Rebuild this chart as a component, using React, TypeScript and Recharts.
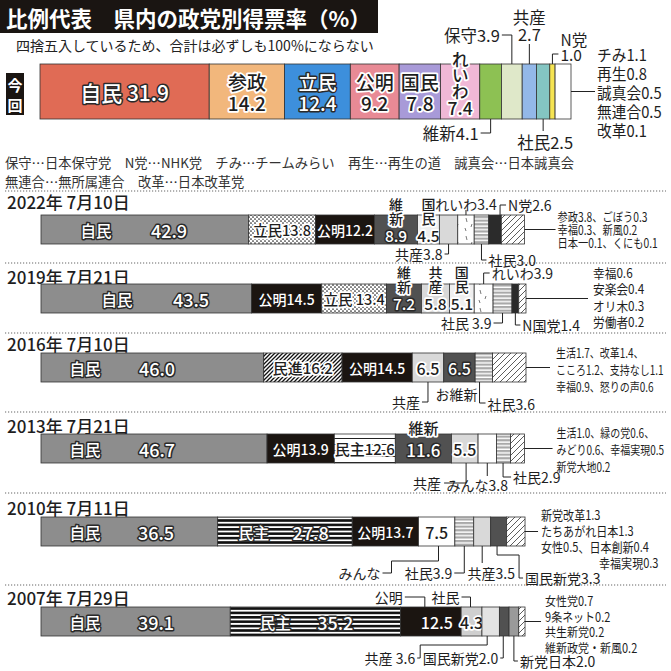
import React from 'react'
import { BarChart, Bar, XAxis, YAxis } from 'recharts'

const FONT = "'Noto Sans CJK JP', 'Noto Sans', sans-serif"

// ---- data: today's result ----
const nowParties = ['自民', '参政', '立民', '公明', '国民', 'れいわ', '維新', '保守', '共産', '社民', 'N党', 'その他']
const nowValues = [31.9, 14.2, 12.4, 9.2, 7.8, 7.4, 4.1, 3.9, 2.7, 2.5, 1.0, 3.0]
const nowOthers = ['チみ1.1', '再生0.8', '誠真会0.5', '無連合0.5', '改革0.1']

// ---- data: past elections ----
const p2022 = ['自民', '立民', '公明', '維新', '国民', '共産', 'れいわ', '社民', 'N党', 'その他']
const v2022 = [42.9, 13.8, 12.2, 8.9, 4.5, 3.8, 3.4, 3.0, 2.6, 4.8]
const o2022 = ['参政3.8、ごぼう0.3', '幸福0.3、新風0.2', '日本一0.1、くにも0.1']

const p2019 = ['自民', '公明', '立民', '維新', '共産', '国民', 'れいわ', '社民', 'N国党', 'その他']
const v2019 = [43.5, 14.5, 13.4, 7.2, 5.8, 5.1, 3.9, 3.9, 1.4, 1.5]
const o2019 = ['幸福0.6', '安楽会0.4', 'オリ木0.3', '労働者0.2']

const p2016 = ['自民', '民進', '公明', '共産', 'お維新', '社民', 'その他']
const v2016 = [46.0, 16.2, 14.5, 6.5, 6.5, 3.6, 6.9]
const o2016 = ['生活1.7、改革1.4、', 'こころ1.2、支持なし1.1', '幸福0.9、怒りの声0.6']

const p2013 = ['自民', '公明', '民主', '維新', '共産', 'みんな', '社民', 'その他']
const v2013 = [46.7, 13.9, 12.6, 11.6, 5.5, 3.8, 2.9, 2.9]
const o2013 = ['生活1.0、緑の党0.6、', 'みどり0.6、幸福実現0.5', '新党大地0.2']

const p2010 = ['自民', '民主', '公明', 'みんな', '社民', '共産', '国民新党', 'その他']
const v2010 = [36.5, 27.8, 13.7, 7.5, 3.9, 3.5, 3.3, 3.8]
const o2010 = ['新党改革1.3', 'たちあがれ日本1.3', '女性0.5、日本創新0.4', '幸福実現0.3']

const p2007 = ['自民', '民主', '公明', '社民', '共産', '国民新党', '新党日本', 'その他']
const v2007 = [39.1, 35.2, 12.5, 4.3, 3.6, 2.0, 2.0, 1.3]
const o2007 = ['女性党0.7', '9条ネット0.2', '共生新党0.2', '維新政党・新風0.2']

const dates = ['2022年 7月10日', '2019年 7月21日', '2016年 7月10日', '2013年 7月21日', '2010年 7月11日', '2007年 7月29日']
const title = '比例代表　県内の政党別得票率（%）'
const subtitle = '四捨五入しているため、合計は必ずしも100%にならない'
const legendLines = [
  '保守…日本保守党　N党…NHK党　チみ…チームみらい　再生…再生の道　誠真会…日本誠真会',
  '無連合…無所属連合　改革…日本改革党',
]

// ---- look & layout ----
type Txt = { t: string; dx?: number; dy?: number; from?: 'l' | 'c'; c?: 'w' | 'k' | 'kh' | 'wp'; fs?: number }
type Note = {
  edge: 'top' | 'bottom' | 'end'
  f?: number
  path: number[][]
  tx: number
  ty: number
  a: 'start' | 'middle' | 'end'
  t?: string[]
  lh?: number
  fs?: number
  sx?: number
  ldx?: number[]
}
type Look = { fill: string; txt?: Txt[]; note?: Note }

const GRAY = '#8d8d8d'
const BLACK = '#1b1511'
const DARK = '#515151'
const LIGHT = '#d9d9d9'
const PALE = '#efefef'
const NEARBLACK = '#2b2b2b'
const MID = '#9a9a9a'

const jimin = (dn: number, dv: number): Txt[] => [
  { t: '{n}', from: 'l', dx: dn, c: 'w', fs: 15.5 },
  { t: '{v}', from: 'l', dx: dv, c: 'w', fs: 18 },
]
const vert = (d: number[], c: 'w' | 'kh'): Txt[] => [
  { t: '{n0}', dy: d[0], c: 'kh', fs: 14 },
  { t: '{n1}', dy: d[1], c: 'kh', fs: 14 },
  { t: '{v}', dy: d[2], c, fs: 15.5 },
]
const two = (c: 'w' | 'kh'): Txt[] => [
  { t: '{n}', dy: -10, c, fs: 19 },
  { t: '{v}', dy: 11, c, fs: 19 },
]

const nowLook: Look[] = [
  { fill: '#e06b55', txt: [{ t: '{n} {v}', c: 'w', fs: 21 }] },
  { fill: '#f2b77c', txt: two('kh') },
  { fill: '#3d8fdc', txt: two('w') },
  { fill: '#e88a95', txt: two('kh') },
  { fill: '#a89ad8', txt: two('kh') },
  {
    fill: '#f0b8d6',
    txt: [
      { t: '{n0}', dy: -33, c: 'kh', fs: 16.5 },
      { t: '{n1}', dy: -17, c: 'kh', fs: 16.5 },
      { t: '{n2}', dy: -1, c: 'kh', fs: 16.5 },
      { t: '{v}', dy: 16, c: 'kh', fs: 17.5 },
    ],
  },
  { fill: '#8dc153', note: { edge: 'bottom', path: [[0, 0], [0, 14], [-10, 14]], tx: -12, ty: 14, a: 'end', t: ['{n}{v}'], fs: 16.5 } },
  { fill: '#dfe8c9', note: { edge: 'top', path: [[0, 0], [0, -29], [-10, -29]], tx: -12, ty: -29, a: 'end', t: ['{n}{v}'], fs: 16.5 } },
  { fill: '#93b8e8', note: { edge: 'top', path: [[0, 0], [0, -20]], tx: 0, ty: -47, a: 'middle', t: ['{n}', '{v}'], lh: 17, fs: 16.5 } },
  { fill: '#84c5c2', note: { edge: 'bottom', path: [[0, 0], [0, 12]], tx: 2, ty: 23, a: 'middle', t: ['{n}{v}'], fs: 16.5 } },
  { fill: '#f6e452', note: { edge: 'top', path: [[0, 0], [0, -10], [6, -10]], tx: 8, ty: -25, a: 'start', t: ['{n}', '{v}'], lh: 15, fs: 15.5 } },
  { fill: '#ffffff', note: { edge: 'end', path: [[0, 0], [24, 0]], tx: 26, ty: -38, a: 'start', lh: 19, fs: 15.5, sx: 0.95 } },
]

const look2022: Look[] = [
  { fill: GRAY, txt: jimin(55, 128) },
  { fill: 'url(#dots)', txt: [{ t: '{n}{v}', c: 'kh', fs: 14.5 }] },
  { fill: BLACK, txt: [{ t: '{n}{v}', c: 'wp', fs: 14 }] },
  { fill: DARK, txt: vert([-26, -12, 5], 'w') },
  { fill: PALE, txt: vert([-26, -12, 5], 'kh') },
  { fill: LIGHT, note: { edge: 'bottom', path: [[0, 0], [0, 10], [-4, 10]], tx: -6, ty: 10, a: 'end', t: ['{n}{v}'] } },
  { fill: 'url(#reiwa)', note: { edge: 'top', path: [[0, 0], [0, -5]], tx: 0, ty: -11, a: 'middle', t: ['{n}{v}'] } },
  { fill: 'url(#hstripe)', note: { edge: 'bottom', path: [[0, 0], [0, 16], [5, 16]], tx: 7, ty: 16, a: 'start', t: ['{n}{v}'] } },
  { fill: NEARBLACK, note: { edge: 'top', f: 0.9, path: [[0, 0], [0, -10], [6, -10]], tx: 8, ty: -10, a: 'start', t: ['{n}{v}'] } },
  { fill: 'url(#hatch)', note: { edge: 'end', path: [[0, 0], [31, 0]], tx: 33, ty: -13, a: 'start', lh: 13, fs: 12.5, sx: 0.82 } },
]

const look2019: Look[] = [
  { fill: GRAY, txt: jimin(76, 150) },
  { fill: BLACK, txt: [{ t: '{n}{v}', c: 'wp', fs: 14 }] },
  { fill: 'url(#dots)', txt: [{ t: '{n} {v}', c: 'kh', fs: 14.5 }] },
  { fill: DARK, txt: vert([-27, -13, 4], 'w') },
  { fill: LIGHT, txt: vert([-27, -13, 4], 'kh') },
  { fill: PALE, txt: vert([-27, -13, 4], 'kh') },
  { fill: 'url(#reiwa)', note: { edge: 'top', path: [[0, 0], [0, -11], [6, -11]], tx: 8, ty: -11, a: 'start', t: ['{n}{v}'] } },
  { fill: 'url(#hstripe)', note: { edge: 'bottom', path: [[0, 0], [0, 10], [-9, 10]], tx: -11, ty: 10, a: 'end', t: ['{n} {v}'] } },
  { fill: NEARBLACK, note: { edge: 'bottom', path: [[0, 0], [0, 12], [5, 12]], tx: 7, ty: 12, a: 'start', t: ['{n}{v}'] } },
  { fill: 'url(#hatch)', note: { edge: 'end', path: [[0, 0], [62, 0]], tx: 67, ty: -26, a: 'start', lh: 16.5, fs: 13, sx: 0.9 } },
]

const look2016: Look[] = [
  { fill: GRAY, txt: jimin(44, 116) },
  { fill: 'url(#dhatch)', txt: [{ t: '{n}{v}', c: 'kh', fs: 15 }] },
  { fill: BLACK, txt: [{ t: '{n}{v}', c: 'wp', fs: 14 }] },
  { fill: LIGHT, txt: [{ t: '{v}', c: 'kh', fs: 16 }], note: { edge: 'bottom', path: [[0, 0], [0, 20], [-6, 20]], tx: -8, ty: 20, a: 'end', t: ['{n}'] } },
  { fill: DARK, txt: [{ t: '{v}', c: 'w', fs: 16 }], note: { edge: 'bottom', path: [], tx: -3, ty: 12, a: 'middle', t: ['{n}'] } },
  { fill: 'url(#hstripe)', note: { edge: 'bottom', f: 0.25, path: [[0, 0], [0, 21], [6, 21]], tx: 8, ty: 22, a: 'start', t: ['{n}{v}'] } },
  { fill: 'url(#hatch)', note: { edge: 'end', path: [[0, 0], [24, 0]], tx: 30, ty: -15, a: 'start', lh: 17, fs: 12.5, sx: 0.8 } },
]

const look2013: Look[] = [
  { fill: GRAY, txt: jimin(44, 116) },
  { fill: BLACK, txt: [{ t: '{n}{v}', c: 'wp', fs: 14 }] },
  { fill: 'url(#lstripe)', txt: [{ t: '{n}{v}', c: 'kh', fs: 15 }] },
  { fill: DARK, txt: [{ t: '{n}', dy: -21, c: 'kh', fs: 15 }, { t: '{v}', dy: 1, c: 'w', fs: 17 }] },
  { fill: LIGHT, txt: [{ t: '{v}', c: 'kh', fs: 16 }], note: { edge: 'bottom', f: 0.55, path: [[0, 0], [0, 20], [-22, 20]], tx: -25, ty: 20, a: 'end', t: ['{n}'] } },
  { fill: '#ffffff', note: { edge: 'bottom', path: [[0, 0], [0, 13]], tx: -10, ty: 22, a: 'middle', t: ['{n}{v}'] } },
  { fill: 'url(#hstripe)', note: { edge: 'bottom', f: 0.47, path: [[0, 0], [0, 14], [8, 14]], tx: 10, ty: 14, a: 'start', t: ['{n}{v}'] } },
  { fill: 'url(#hatch)', note: { edge: 'end', path: [[0, 0], [28, 0]], tx: 32, ty: -16, a: 'start', lh: 17, fs: 12.5, sx: 0.8 } },
]

const look2010: Look[] = [
  { fill: GRAY, txt: jimin(44, 115) },
  { fill: 'url(#bstripe)', txt: [{ t: '{n}', from: 'l', dx: 36, c: 'w', fs: 15.5 }, { t: '{v}', from: 'l', dx: 93, c: 'w', fs: 18 }] },
  { fill: BLACK, txt: [{ t: '{n}{v}', c: 'wp', fs: 14 }] },
  { fill: '#ffffff', txt: [{ t: '{v}', c: 'k', fs: 16 }], note: { edge: 'bottom', f: 0.55, path: [[0, 0], [0, 15], [-47, 15], [-47, 27], [-56, 27]], tx: -58, ty: 27, a: 'end', t: ['{n}'] } },
  { fill: 'url(#hstripe)', note: { edge: 'bottom', path: [[0, 0], [0, 27], [-10, 27]], tx: -12, ty: 27, a: 'end', t: ['{n}{v}'] } },
  { fill: LIGHT, note: { edge: 'bottom', path: [[0, 0], [0, 17]], tx: 9, ty: 27, a: 'middle', t: ['{n}{v}'] } },
  { fill: DARK, note: { edge: 'bottom', f: 0.4, path: [[0, 0], [0, 9], [22, 9], [22, 32], [26, 32]], tx: 28, ty: 32, a: 'start', t: ['{n}{v}'] } },
  { fill: 'url(#hatch)', note: { edge: 'end', path: [[0, 0], [13, 0]], tx: 16, ty: -17, a: 'start', lh: 16, fs: 13, sx: 0.85, ldx: [0, 0, 0, 58] } },
]

const look2007: Look[] = [
  { fill: GRAY, txt: jimin(44, 115) },
  { fill: 'url(#bstripe)', txt: [{ t: '{n}', from: 'l', dx: 45, c: 'w', fs: 15.5 }, { t: '{v}', from: 'l', dx: 105, c: 'w', fs: 18 }] },
  { fill: BLACK, txt: [{ t: '{v}', dx: 6, c: 'wp', fs: 16 }], note: { edge: 'top', f: 0.4, path: [[0, 0], [0, -10], [-20, -10]], tx: -22, ty: -10, a: 'end', t: ['{n}'] } },
  { fill: '#cfcfcf', txt: [{ t: '{v}', c: 'kh', fs: 16 }], note: { edge: 'top', f: 0.45, path: [[0, 0], [0, -10], [-9, -10]], tx: -11, ty: -10, a: 'end', t: ['{n}'] } },
  { fill: '#e3e3e3', note: { edge: 'bottom', f: 0.3, path: [[0, 0], [0, 9], [-67, 9], [-67, 22], [-70, 22]], tx: -72, ty: 22, a: 'end', t: ['{n} {v}'] } },
  { fill: DARK, note: { edge: 'bottom', f: 0.4, path: [[0, 0], [0, 22], [-3, 22]], tx: -5, ty: 22, a: 'end', t: ['{n}{v}'] } },
  { fill: MID, note: { edge: 'bottom', path: [[0, 0], [0, 25], [4, 25]], tx: 6, ty: 25, a: 'start', t: ['{n}{v}'] } },
  { fill: 'url(#hatch)', note: { edge: 'end', path: [[0, 0], [16, 0]], tx: 20, ty: -21, a: 'start', lh: 15.5, fs: 12.5, sx: 0.88 } },
]

const rowTops = [215, 284, 353, 434, 517, 607]
const sepYs = [191, 263, 333, 412, 493, 585]
const dateYs = [201, 276, 343, 425, 507, 597]

function fmt(t: string, name: string, value: number) {
  return t
    .replace(/\{n(\d)\}/g, (_m, i) => name[Number(i)] ?? '')
    .replace('{n}', name)
    .replace('{v}', value.toFixed(1))
}

function textStyle(c: string | undefined) {
  if (c === 'w') return { fill: '#fff', stroke: '#2a2a2a', strokeWidth: 3 }
  if (c === 'wp') return { fill: '#fff', stroke: 'none', strokeWidth: 0 }
  if (c === 'kh') return { fill: '#1e1e1e', stroke: '#fff', strokeWidth: 3.5 }
  return { fill: '#1e1e1e', stroke: 'none', strokeWidth: 0 }
}

function makeShape(look: Look, name: string, value: number, others: string[]) {
  return (props: any) => {
    const { x, y, width, height } = props
    const cy = y + height / 2
    const note = look.note
    let noteEl = null
    if (note) {
      const ax = note.edge === 'end' ? x + width : x + width * (note.f ?? 0.5)
      const ay = note.edge === 'top' ? y : note.edge === 'bottom' ? y + height : cy
      const lines = note.t ? note.t.map((s) => fmt(s, name, value)) : others
      const lh = note.lh ?? 15
      const sx = note.sx ?? 1
      noteEl = (
        <g>
          {note.path.length > 1 && (
            <polyline
              points={note.path.map((p) => `${ax + p[0]},${ay + p[1]}`).join(' ')}
              fill="none"
              stroke="#222"
              strokeWidth={1}
            />
          )}
          {lines.map((s, i) => (
            <text
              key={i}
              transform={`translate(${ax + note.tx + (note.ldx?.[i] ?? 0)},${ay + note.ty + i * lh}) scale(${sx},1)`}
              x={0}
              y={0}
              textAnchor={note.a}
              dominantBaseline="central"
              fontSize={note.fs ?? 14}
              fontFamily={FONT}
              fill="#1e1e1e"
            >
              {s}
            </text>
          ))}
        </g>
      )
    }
    return (
      <g>
        <rect x={x} y={y} width={width} height={height} fill={look.fill} stroke="#333" strokeWidth={0.8} />
        {(look.txt ?? []).map((tt, i) => {
          const st = textStyle(tt.c)
          const bx = tt.from === 'l' ? x : x + width / 2
          return (
            <text
              key={i}
              x={bx + (tt.dx ?? 0)}
              y={cy + (tt.dy ?? 0)}
              textAnchor="middle"
              dominantBaseline="central"
              fontSize={tt.fs ?? 15}
              fontFamily={FONT}
              fontWeight={500}
              fill={st.fill}
              stroke={st.stroke}
              strokeWidth={st.strokeWidth}
              strokeLinejoin="round"
              paintOrder="stroke"
            >
              {fmt(tt.t, name, value)}
            </text>
          )
        })}
        {noteEl}
      </g>
    )
  }
}

type RowProps = {
  parties: string[]
  values: number[]
  others: string[]
  look: Look[]
  top: number
  h: number
  left: number
  right: number
  max: number
}

function StackRow({ parties, values, others, look, top, h, left, right, max }: RowProps) {
  const d: Record<string, string | number> = { name: 'row' }
  values.forEach((v, i) => {
    d['s' + i] = v
  })
  return (
    <div style={{ position: 'absolute', left: 0, top: 0 }}>
      <BarChart
        width={671}
        height={671}
        data={[d]}
        layout="vertical"
        barCategoryGap={0}
        margin={{ top, bottom: 671 - top - h, left, right: 671 - right }}
      >
        <XAxis type="number" hide domain={[0, max]} />
        <YAxis type="category" dataKey="name" hide />
        {values.map((v, i) => (
          <Bar
            key={i}
            dataKey={'s' + i}
            stackId="a"
            isAnimationActive={false}
            shape={makeShape(look[i], parties[i], v, others)}
          />
        ))}
      </BarChart>
    </div>
  )
}

function Patterns() {
  return (
    <svg width={0} height={0} style={{ position: 'absolute' }}>
      <defs>
        <pattern id="dots" width={4} height={4} patternUnits="userSpaceOnUse">
          <rect width={4} height={4} fill="#fff" />
          <circle cx={1} cy={1} r={0.85} fill="#222" />
          <circle cx={3} cy={3} r={0.85} fill="#222" />
        </pattern>
        <pattern id="hatch" width={6} height={6} patternUnits="userSpaceOnUse">
          <rect width={6} height={6} fill="#fff" />
          <path d="M-1,1 L1,-1 M0,6 L6,0 M5,7 L7,5" stroke="#333" strokeWidth={0.8} />
        </pattern>
        <pattern id="dhatch" width={4} height={4} patternUnits="userSpaceOnUse">
          <rect width={4} height={4} fill="#fff" />
          <path d="M-1,1 L1,-1 M0,4 L4,0 M3,5 L5,3" stroke="#111" strokeWidth={1.3} />
        </pattern>
        <pattern id="hstripe" width={4} height={3.6} patternUnits="userSpaceOnUse">
          <rect width={4} height={3.6} fill="#a9a9a9" />
          <rect y={2.2} width={4} height={1.4} fill="#fff" />
        </pattern>
        <pattern id="bstripe" width={4} height={4.4} patternUnits="userSpaceOnUse">
          <rect width={4} height={4.4} fill="#fff" />
          <rect width={4} height={2.6} fill="#111" />
        </pattern>
        <pattern id="lstripe" width={4} height={6} patternUnits="userSpaceOnUse">
          <rect width={4} height={6} fill="#fff" />
          <rect width={4} height={1} fill="#222" />
        </pattern>
        <pattern id="reiwa" width={14} height={18} patternUnits="userSpaceOnUse">
          <rect width={14} height={18} fill="#fff" />
          <path d="M4,2 l1,4 M10,8 l-1,3 M3,12 l1,3" stroke="#555" strokeWidth={0.8} />
        </pattern>
      </defs>
    </svg>
  )
}

export default function App() {
  const past = [
    { parties: p2022, values: v2022, others: o2022, look: look2022 },
    { parties: p2019, values: v2019, others: o2019, look: look2019 },
    { parties: p2016, values: v2016, others: o2016, look: look2016 },
    { parties: p2013, values: v2013, others: o2013, look: look2013 },
    { parties: p2010, values: v2010, others: o2010, look: look2010 },
    { parties: p2007, values: v2007, others: o2007, look: look2007 },
  ]
  return (
    <div style={{ position: 'absolute', left: 0, top: 0, width: 671, height: 671, background: '#fff', overflow: 'hidden' }}>
      <Patterns />
      <svg width={671} height={671} style={{ position: 'absolute', left: 0, top: 0 }} fontFamily={FONT}>
        <rect x={0} y={0} width={378} height={33} fill="#1a1512" />
        <text x={6} y={17} fontSize={21.5} fontWeight={700} fill="#fff" dominantBaseline="central">
          {title}
        </text>
        <text x={16} y={45} fontSize={14} fill="#222" dominantBaseline="central">
          {subtitle}
        </text>
        <rect x={6} y={73} width={18} height={42} fill="#1a1512" />
        <text x={15} y={84} fontSize={15} fontWeight={700} fill="#fff" textAnchor="middle" dominantBaseline="central">
          今
        </text>
        <text x={15} y={104} fontSize={15} fontWeight={700} fill="#fff" textAnchor="middle" dominantBaseline="central">
          回
        </text>
        {legendLines.map((s, i) => (
          <text key={i} x={5} y={162 + i * 19} fontSize={13.3} fill="#333" dominantBaseline="central">
            {s}
          </text>
        ))}
        {sepYs.map((y, i) => (
          <line key={i} x1={5} x2={666} y1={y} y2={y} stroke="#666" strokeWidth={1.2} strokeDasharray="1.2 1.8" />
        ))}
        {dates.map((s, i) => (
          <text key={i} x={7} y={dateYs[i]} fontSize={17} fontWeight={500} fill="#1e1e1e" dominantBaseline="central">
            {s}
          </text>
        ))}
      </svg>
      <StackRow
        parties={nowParties}
        values={nowValues}
        others={nowOthers}
        look={nowLook}
        top={64}
        h={55}
        left={40}
        right={571}
        max={100.1}
      />
      {past.map((r, i) => (
        <StackRow key={i} {...r} top={rowTops[i]} h={29} left={41} right={526} max={100.2} />
      ))}
    </div>
  )
}
